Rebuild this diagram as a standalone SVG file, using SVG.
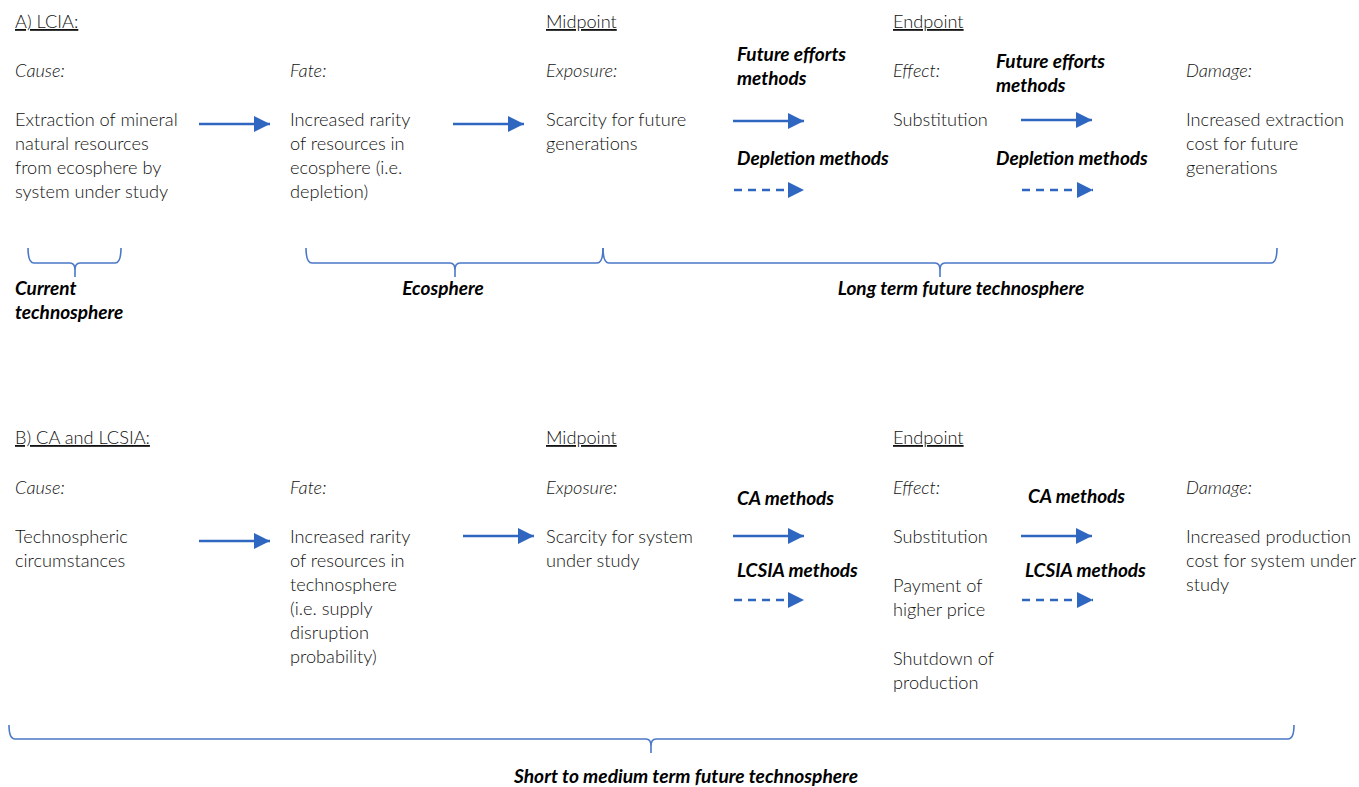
<svg xmlns="http://www.w3.org/2000/svg" width="1359" height="787" viewBox="0 0 1359 787">
<defs>
<marker id="ah" markerUnits="userSpaceOnUse" markerWidth="16" markerHeight="16" refX="16" refY="8" orient="auto">
<path d="M0,0 L16,8 L0,16 Z" fill="#2f67c0"/>
</marker>
<style>
text{font-family:Lato,"Liberation Sans",sans-serif;font-size:18.2px;fill:#111;font-weight:300}
.h{text-decoration:underline}
.i{font-style:italic}
.b{font-weight:bold;font-style:italic;fill:#000;font-size:19px}
.ar{stroke:#2f67c0;stroke-width:2.5;fill:none;marker-end:url(#ah)}
.d{stroke-dasharray:8 6}
.br{stroke:#4a78c8;stroke-width:1.6;fill:none}
</style>
</defs>
<rect width="1359" height="787" fill="#fff"/>

<g id="sectionA">
<g id="A-title"><text class="h" x="15" y="28">A) LCIA:</text></g>
<g id="A-mid"><text class="h" x="546" y="28">Midpoint</text></g>
<g id="A-end"><text class="h" x="893" y="28">Endpoint</text></g>
<g id="A-cause"><text class="i" x="15" y="77">Cause:</text>
<text x="15" y="126">Extraction of mineral</text><text x="15" y="150">natural resources</text><text x="15" y="174">from ecosphere by</text><text x="15" y="198">system under study</text></g>
<g id="A-fate"><text class="i" x="290" y="77">Fate:</text>
<text x="290" y="126">Increased rarity</text><text x="290" y="150">of resources in</text><text x="290" y="174">ecosphere (i.e.</text><text x="290" y="198">depletion)</text></g>
<g id="A-exposure"><text class="i" x="546" y="77">Exposure:</text>
<text x="546" y="126">Scarcity for future</text><text x="546" y="150">generations</text></g>
<g id="A-effect"><text class="i" x="893" y="77">Effect:</text>
<text x="893" y="126">Substitution</text></g>
<g id="A-damage"><text class="i" x="1186" y="77">Damage:</text>
<text x="1186" y="126">Increased extraction</text><text x="1186" y="150">cost for future</text><text x="1186" y="174">generations</text></g>
<g id="A-labels">
<text class="b" x="737" y="61">Future efforts</text><text class="b" x="737" y="85">methods</text>
<text class="b" x="737" y="165">Depletion methods</text>
<text class="b" x="996" y="68">Future efforts</text><text class="b" x="996" y="92">methods</text>
<text class="b" x="996" y="165">Depletion methods</text>
</g>
<g id="A-braces">
<path class="br" d="M28,248 Q28,263 34,263 L70,263 Q75,263 75,270 L75,277 M75,270 Q75,263 80,263 L115,263 Q121,263 121,248"/>
<path class="br" d="M306,248 Q306,263 312,263 L450,263 Q455,263 455,270 L455,277 M455,270 Q455,263 460,263 L597,263 Q603,263 603,248"/>
<path class="br" d="M603,248 Q603,263 609,263 L935,263 Q940,263 940,270 L940,277 M940,270 Q940,263 945,263 L1271,263 Q1277,263 1277,248"/>
<text class="b" x="15" y="295">Current</text><text class="b" x="15" y="319">technosphere</text>
<text class="b" x="443" y="295" text-anchor="middle">Ecosphere</text>
<text class="b" x="961" y="295" text-anchor="middle">Long term future technosphere</text>
</g>
</g>

<g id="sectionB">
<g id="B-title"><text class="h" x="15" y="444">B) CA and LCSIA:</text></g>
<g id="B-mid"><text class="h" x="546" y="444">Midpoint</text></g>
<g id="B-end"><text class="h" x="893" y="444">Endpoint</text></g>
<g id="B-cause"><text class="i" x="15" y="494">Cause:</text>
<text x="15" y="543">Technospheric</text><text x="15" y="567">circumstances</text></g>
<g id="B-fate"><text class="i" x="290" y="494">Fate:</text>
<text x="290" y="543">Increased rarity</text><text x="290" y="567">of resources in</text><text x="290" y="591">technosphere</text><text x="290" y="615">(i.e. supply</text><text x="290" y="639">disruption</text><text x="290" y="663">probability)</text></g>
<g id="B-exposure"><text class="i" x="546" y="494">Exposure:</text>
<text x="546" y="543">Scarcity for system</text><text x="546" y="567">under study</text></g>
<g id="B-effect"><text class="i" x="893" y="494">Effect:</text>
<text x="893" y="543">Substitution</text>
<text x="893" y="592">Payment of</text><text x="893" y="616">higher price</text>
<text x="893" y="665">Shutdown of</text><text x="893" y="689">production</text></g>
<g id="B-damage"><text class="i" x="1186" y="494">Damage:</text>
<text x="1186" y="543">Increased production</text><text x="1186" y="567">cost for system under</text><text x="1186" y="591">study</text></g>
<g id="B-labels">
<text class="b" x="737" y="505">CA methods</text>
<text class="b" x="737" y="577">LCSIA methods</text>
<text class="b" x="1028" y="503">CA methods</text>
<text class="b" x="1025" y="577">LCSIA methods</text>
</g>
<g id="B-brace">
<path class="br" d="M9,725 Q9,739 15,739 L646,739 Q651,739 651,746 L651,753 M651,746 Q651,739 656,739 L1288,739 Q1294,739 1294,725"/>
<text class="b" x="686" y="783" text-anchor="middle" textLength="344" lengthAdjust="spacingAndGlyphs">Short to medium term future technosphere</text>
</g>
</g>

<g id="connectors">
<line class="ar" x1="199" y1="124" x2="270" y2="124"/>
<line class="ar" x1="453" y1="124" x2="524" y2="124"/>
<line class="ar" x1="733" y1="121" x2="804" y2="121"/>
<line class="ar" x1="1021" y1="120" x2="1092" y2="120"/>
<line class="ar d" x1="734" y1="190" x2="804" y2="190"/>
<line class="ar d" x1="1022" y1="190" x2="1093" y2="190"/>
<line class="ar" x1="199" y1="541" x2="270" y2="541"/>
<line class="ar" x1="463" y1="536" x2="534" y2="536"/>
<line class="ar" x1="733" y1="536" x2="804" y2="536"/>
<line class="ar" x1="1021" y1="536" x2="1092" y2="536"/>
<line class="ar d" x1="734" y1="600" x2="804" y2="600"/>
<line class="ar d" x1="1022" y1="600" x2="1093" y2="600"/>
</g>
</svg>
